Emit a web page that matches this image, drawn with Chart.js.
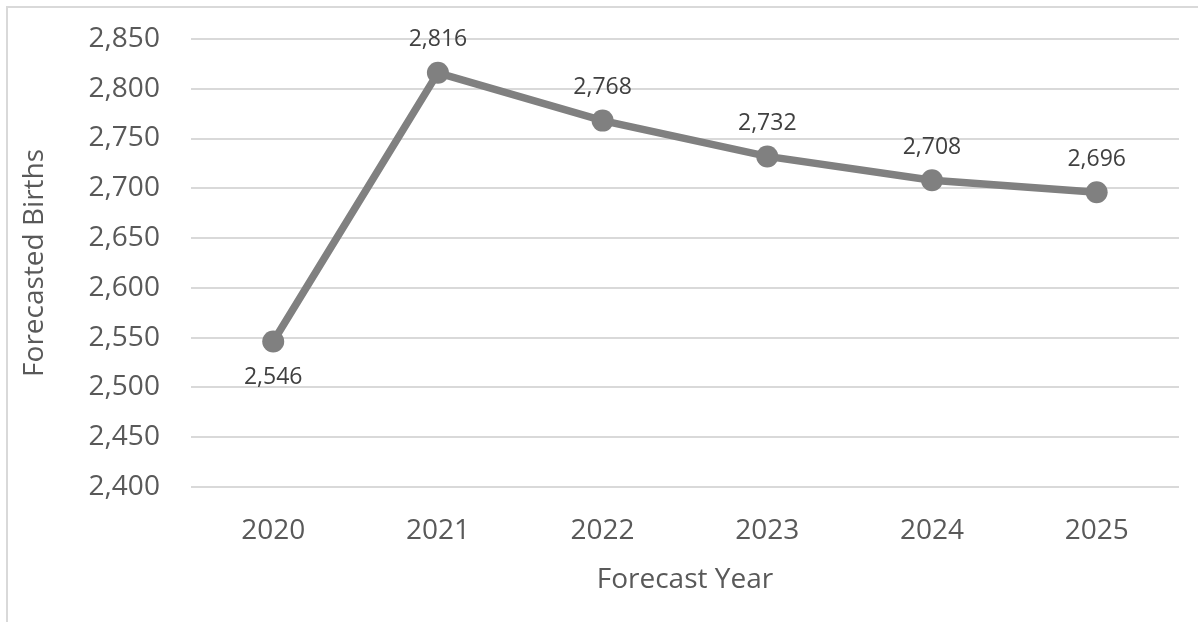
<!DOCTYPE html>
<html>
<head>
<meta charset="utf-8">
<script src="https://cdn.jsdelivr.net/npm/chart.js@4"></script>
<style>
  html, body { margin: 0; padding: 0; background: #fff; }
  #frame { position: absolute; left: 6px; top: 6px; width: 1192px; height: 616px;
           border-left: 2px solid #d9d9d9; border-top: 2px solid #d9d9d9; box-sizing: border-box; }
  #wrap { position: absolute; left: 0; top: 0; width: 1198px; height: 622px; }
</style>
</head>
<body>
<div id="frame"></div>
<div id="wrap"><canvas id="chart" width="1198" height="622"></canvas></div>
<script>
// forecast births per year
var years = ['2020', '2021', '2022', '2023', '2024', '2025'];
var births = [2546, 2816, 2768, 2732, 2708, 2696];
// where each value label sits relative to its point
var labelPos = ['below', 'above', 'above', 'above', 'above', 'above'];

var yMin = 2400, yMax = 2850, yStep = 50;

// simple value labels, no datalabels plugin around
var valueLabels = {
    id: 'valueLabels',
    afterDatasetsDraw: function(chart) {
        var ctx = chart.ctx;
        var meta = chart.getDatasetMeta(0);
        ctx.save();
        ctx.font = '23px "Open Sans"';
        ctx.fillStyle = '#404040';
        ctx.textAlign = 'center';
        ctx.textBaseline = 'middle';
        meta.data.forEach(function(pt, i) {
            var txt = births[i].toLocaleString('en-US');
            var dy = labelPos[i] == 'below' ? 36 : -33;
            ctx.fillText(txt, pt.x, pt.y + dy);
        });
        ctx.restore();
    }
};

var ctx = document.getElementById('chart').getContext('2d');
var chart = new Chart(ctx, {
    type: 'line',
    data: {
        labels: years,
        datasets: [{
            data: births,
            borderColor: '#808080',
            backgroundColor: '#808080',
            borderWidth: 7.5,
            pointRadius: 11,
            pointBorderWidth: 0,
            tension: 0,
            clip: false
        }]
    },
    options: {
        responsive: false,
        animation: false,
        layout: { autoPadding: false, padding: { left: 18, right: 19, top: 39, bottom: 25 } },
        plugins: {
            legend: { display: false },
            tooltip: { enabled: false }
        },
        scales: {
            x: {
                offset: true,
                grid: { display: false, drawTicks: false },
                border: { display: false },
                ticks: { color: '#595959', font: { family: 'Open Sans', size: 28 }, padding: 27 },
                title: { display: true, text: 'Forecast Year', color: '#595959',
                         font: { family: 'Open Sans', size: 28 }, padding: { top: -11, bottom: 0 } }
            },
            y: {
                min: yMin,
                max: yMax,
                // tick padding would otherwise push the plot top down
                afterFit: function(scale) { scale.paddingTop = 0; scale.paddingBottom = 0; },
                grid: { color: '#d9d9d9', lineWidth: 2, drawTicks: false },
                border: { display: false },
                ticks: {
                    stepSize: yStep,
                    color: '#595959',
                    font: { family: 'Open Sans', size: 28, lineHeight: 1 },
                    padding: 31,
                    callback: function(v) { return v.toLocaleString('en-US'); }
                },
                title: { display: true, text: 'Forecasted Births', color: '#595959',
                         font: { family: 'Open Sans', size: 28 }, padding: { top: 0, bottom: 6 } }
            }
        }
    },
    plugins: [valueLabels]
});
</script>
</body>
</html>
